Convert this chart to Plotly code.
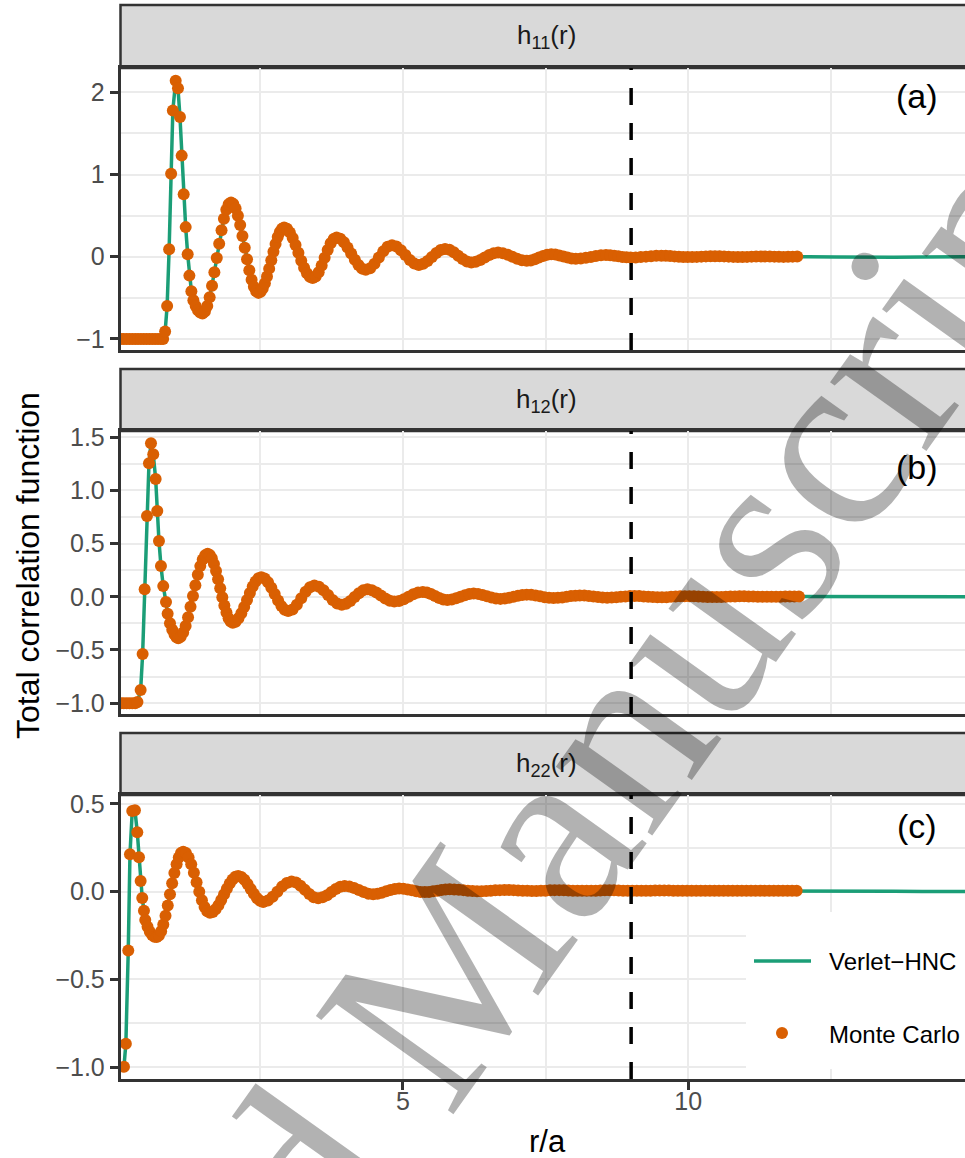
import plotly.graph_objects as go

# ---------------- data ----------------
# h11(r)  Monte Carlo
r11 = [0.06, 0.11, 0.16, 0.21, 0.26, 0.31, 0.36, 0.41, 0.46, 0.51, 0.56, 0.61, 0.66, 0.71, 0.76, 0.80,
       0.835, 0.87, 0.905, 0.94, 0.97, 1.02, 1.06, 1.095, 1.125, 1.16, 1.195, 1.23, 1.26, 1.295, 1.33,
       1.37, 1.41, 1.45, 1.49,
       1.532, 1.573, 1.615, 1.657, 1.698, 1.74, 1.782, 1.823, 1.865, 1.907, 1.948, 1.99,
       2.03, 2.07, 2.11, 2.15, 2.19, 2.23, 2.27, 2.31, 2.35, 2.39, 2.43, 2.47,
       2.508, 2.545, 2.583, 2.62, 2.658, 2.695, 2.733, 2.77, 2.808, 2.845, 2.883, 2.92,
       2.97, 3.02, 3.07, 3.12, 3.17, 3.22, 3.27, 3.32, 3.37, 3.42,
       3.473, 3.525, 3.578, 3.63, 3.683, 3.735, 3.788, 3.84,
       3.904, 3.968, 4.031, 4.095, 4.159, 4.223, 4.286, 4.35,
       4.427, 4.503, 4.58, 4.657, 4.733, 4.81,
       4.888, 4.967, 5.045, 5.123, 5.202, 5.28,
       5.357, 5.433, 5.51, 5.587, 5.663, 5.74,
       5.817, 5.893, 5.97, 6.047, 6.123, 6.20,
       6.278, 6.357, 6.435, 6.513, 6.592, 6.67,
       6.753, 6.837, 6.92, 7.003, 7.087, 7.17,
       7.242, 7.313, 7.385, 7.457, 7.528, 7.60,
       7.672, 7.743, 7.815, 7.887, 7.958, 8.03,
       8.118, 8.207, 8.295, 8.383, 8.472, 8.56,
       8.632, 8.703, 8.775, 8.847, 8.918, 8.99,
       9.08, 9.17, 9.26, 9.35, 9.44, 9.53,
       9.607, 9.683, 9.76, 9.837, 9.913, 9.99,
       10.07, 10.15, 10.23, 10.31, 10.39, 10.47, 10.55, 10.63, 10.71, 10.79, 10.87, 10.95,
       11.03, 11.11, 11.19, 11.27, 11.35, 11.43, 11.51, 11.59, 11.67, 11.75, 11.83, 11.91]
h11 = [-1.0, -1.0, -1.0, -1.0, -1.0, -1.0, -1.0, -1.0, -1.0, -1.0, -1.0, -1.0, -1.0, -1.0, -1.0, -1.0,
       -0.91, -0.60, 0.09, 1.01, 1.78, 2.14, 2.05, 1.70, 1.23, 0.76, 0.36, 0.03, -0.23, -0.42, -0.53,
       -0.60, -0.65, -0.68, -0.69,
       -0.667, -0.600, -0.493, -0.353, -0.189, -0.015, 0.159, 0.323, 0.463, 0.570, 0.637, 0.66,
       0.641, 0.586, 0.499, 0.385, 0.252, 0.110, -0.032, -0.165, -0.279, -0.366, -0.421, -0.44,
       -0.427, -0.387, -0.324, -0.241, -0.145, -0.043, 0.060, 0.156, 0.239, 0.302, 0.341, 0.355,
       0.340, 0.296, 0.228, 0.143, 0.048, -0.048, -0.133, -0.201, -0.245, -0.26,
       -0.241, -0.188, -0.107, -0.013, 0.082, 0.163, 0.216, 0.235,
       0.220, 0.177, 0.113, 0.038, -0.038, -0.102, -0.145, -0.16,
       -0.140, -0.085, -0.010, 0.065, 0.120, 0.14,
       0.124, 0.080, 0.020, -0.040, -0.084, -0.10,
       -0.087, -0.051, -0.003, 0.046, 0.082, 0.095,
       0.084, 0.054, 0.013, -0.029, -0.059, -0.07,
       -0.062, -0.040, -0.010, 0.020, 0.042, 0.05,
       0.043, 0.025, 0.0, -0.025, -0.043, -0.05,
       -0.045, -0.030, -0.010, 0.010, 0.025, 0.03,
       0.026, 0.016, 0.003, -0.011, -0.021, -0.025,
       -0.022, -0.014, -0.003, 0.009, 0.017, 0.02,
       0.018, 0.013, 0.005, -0.003, -0.008, -0.01,
       -0.009, -0.005, 0.001, 0.007, 0.011, 0.012,
       0.011, 0.008, 0.004, -0.001, -0.004, -0.005,
       -0.004, -0.002, 0.001, 0.004, 0.006, 0.007, 0.006, 0.004, 0.001, -0.002, -0.004, -0.004,
       -0.002, 0.001, 0.003, 0.004, 0.004, 0.003, 0.001, -0.001, -0.002, -0.001, 0.001, 0.002]

# h12(r)  Monte Carlo
r12 = [0.06, 0.11, 0.16, 0.21, 0.26, 0.31, 0.35,
       0.406, 0.441, 0.476, 0.517, 0.552, 0.587, 0.627, 0.669, 0.697, 0.727, 0.762, 0.802, 0.850, 0.879,
       0.92, 0.96, 1.00, 1.035, 1.065,
       1.108, 1.151, 1.194, 1.237, 1.28, 1.323, 1.365, 1.408, 1.451, 1.494, 1.537, 1.58,
       1.617, 1.653, 1.69, 1.727, 1.763, 1.80, 1.837, 1.873, 1.91, 1.947, 1.983, 2.02,
       2.07, 2.12, 2.17, 2.22, 2.27, 2.32, 2.37, 2.42, 2.47, 2.52,
       2.579, 2.638, 2.696, 2.755, 2.814, 2.873, 2.931, 2.99,
       3.067, 3.143, 3.22, 3.297, 3.373, 3.45,
       3.53, 3.61, 3.69, 3.77, 3.85, 3.93,
       4.005, 4.08, 4.155, 4.23, 4.305, 4.38,
       4.458, 4.537, 4.615, 4.693, 4.772, 4.85,
       4.933, 5.017, 5.10, 5.183, 5.267, 5.35,
       5.422, 5.493, 5.565, 5.637, 5.708, 5.78,
       5.857, 5.933, 6.01, 6.087, 6.163, 6.24,
       6.318, 6.397, 6.475, 6.553, 6.632, 6.71,
       6.787, 6.863, 6.94, 7.017, 7.093, 7.17,
       7.248, 7.327, 7.405, 7.483, 7.562, 7.64,
       7.717, 7.793, 7.87, 7.947, 8.023, 8.10,
       8.18, 8.26, 8.34, 8.42, 8.50, 8.58, 8.66, 8.74, 8.82, 8.90, 8.98, 9.06,
       9.14, 9.22, 9.30, 9.38, 9.46, 9.54, 9.62, 9.70, 9.78, 9.86, 9.94, 10.02,
       10.10, 10.18, 10.26, 10.34, 10.42, 10.50, 10.58, 10.66, 10.74, 10.82, 10.90, 10.98,
       11.06, 11.14, 11.22, 11.30, 11.38, 11.46, 11.54, 11.62, 11.70, 11.78, 11.86, 11.94]
h12 = [-1.0, -1.0, -1.0, -1.0, -1.0, -1.0, -0.99,
       -0.876, -0.538, 0.07, 0.76, 1.255, 1.443, 1.339, 1.107, 0.806, 0.524, 0.289, 0.10, -0.05, -0.16,
       -0.25, -0.31, -0.355, -0.38, -0.39,
       -0.377, -0.337, -0.274, -0.192, -0.095, 0.007, 0.109, 0.206, 0.288, 0.351, 0.391, 0.404,
       0.393, 0.361, 0.309, 0.242, 0.164, 0.080, -0.004, -0.082, -0.149, -0.201, -0.233, -0.244,
       -0.234, -0.203, -0.156, -0.096, -0.030, 0.036, 0.096, 0.143, 0.174, 0.184,
       0.172, 0.137, 0.085, 0.025, -0.036, -0.088, -0.123, -0.135,
       -0.119, -0.075, -0.015, 0.046, 0.090, 0.106,
       0.094, 0.061, 0.016, -0.030, -0.063, -0.075,
       -0.065, -0.039, -0.003, 0.034, 0.060, 0.07,
       0.062, 0.041, 0.0125, -0.016, -0.037, -0.045,
       -0.039, -0.0225, 0.0, 0.0225, 0.039, 0.045,
       0.040, 0.026, 0.0075, -0.011, -0.025, -0.03,
       -0.026, -0.015, 0.0, 0.015, 0.026, 0.03,
       0.027, 0.0175, 0.005, -0.0075, -0.017, -0.02,
       -0.017, -0.010, 0.0, 0.010, 0.017, 0.02,
       0.018, 0.012, 0.004, -0.004, -0.010, -0.012,
       -0.010, -0.006, 0.0, 0.006, 0.010, 0.012,
       0.011, 0.008, 0.003, -0.002, -0.007, -0.009, -0.008, -0.005, -0.001, 0.003, 0.006, 0.007,
       0.006, 0.003, 0.0, -0.003, -0.005, -0.005, -0.004, -0.001, 0.002, 0.004, 0.005, 0.005,
       0.004, 0.002, 0.0, -0.002, -0.003, -0.003, -0.002, 0.0, 0.002, 0.003, 0.004, 0.004,
       0.003, 0.002, 0.001, 0.0, -0.001, -0.001, 0.0, 0.001, 0.002, 0.003, 0.003, 0.003]

# h22(r)  Monte Carlo
r22 = [0.114, 0.147, 0.189, 0.219, 0.259, 0.306, 0.347, 0.377, 0.406, 0.434, 0.464, 0.487,
       0.527, 0.567, 0.607, 0.647, 0.687,
       0.726, 0.765, 0.803, 0.842, 0.881, 0.92, 0.958, 0.997, 1.036, 1.074, 1.113, 1.152,
       1.199, 1.246, 1.292, 1.339, 1.386, 1.433, 1.48, 1.526, 1.573, 1.62,
       1.67, 1.719, 1.769, 1.818, 1.868, 1.917, 1.967, 2.016, 2.066, 2.115,
       2.17, 2.224, 2.279, 2.334, 2.389, 2.443, 2.498, 2.553,
       2.636, 2.719, 2.802, 2.884, 2.967, 3.05,
       3.128, 3.206, 3.284, 3.361, 3.439, 3.517,
       3.594, 3.672, 3.749, 3.826, 3.903, 3.98,
       4.063, 4.147, 4.23, 4.313, 4.397, 4.48,
       4.556, 4.632, 4.708, 4.783, 4.859, 4.935,
       5.01, 5.085, 5.16, 5.235, 5.31, 5.385,
       5.458, 5.53, 5.603, 5.675, 5.748, 5.82,
       5.90, 5.98, 6.06, 6.14, 6.22, 6.30, 6.38, 6.46, 6.54, 6.62,
       6.70, 6.78, 6.86, 6.94, 7.02, 7.10, 7.18, 7.26, 7.34, 7.42,
       7.50, 7.58, 7.66, 7.74, 7.82, 7.90, 7.98, 8.06, 8.14, 8.22,
       8.30, 8.38, 8.46, 8.54, 8.62, 8.70, 8.78, 8.86, 8.94, 9.02,
       9.10, 9.18, 9.26, 9.34, 9.42, 9.50, 9.58, 9.66, 9.74, 9.82,
       9.90, 9.98, 10.06, 10.14, 10.22, 10.30, 10.38, 10.46, 10.54, 10.62,
       10.70, 10.78, 10.86, 10.94, 11.02, 11.10, 11.18, 11.26, 11.34, 11.42,
       11.50, 11.58, 11.66, 11.74, 11.82, 11.90]
h22 = [-0.997, -0.866, -0.335, 0.214, 0.46, 0.464, 0.339, 0.197, 0.061, -0.036, -0.109, -0.161,
       -0.20, -0.228, -0.247, -0.256, -0.258,
       -0.250, -0.225, -0.187, -0.137, -0.078, -0.015, 0.048, 0.107, 0.157, 0.195, 0.220, 0.228,
       0.220, 0.195, 0.156, 0.108, 0.054, 0.0, -0.048, -0.087, -0.112, -0.12,
       -0.115, -0.100, -0.077, -0.047, -0.015, 0.017, 0.047, 0.070, 0.085, 0.09,
       0.084, 0.068, 0.044, 0.016, -0.012, -0.036, -0.052, -0.058,
       -0.050, -0.029, 0.0, 0.029, 0.050, 0.058,
       0.052, 0.034, 0.0105, -0.013, -0.031, -0.037,
       -0.032, -0.0195, -0.002, 0.0155, 0.028, 0.033,
       0.030, 0.021, 0.0095, -0.002, -0.011, -0.014,
       -0.012, -0.006, 0.002, 0.010, 0.016, 0.018,
       0.017, 0.013, 0.008, 0.003, -0.001, -0.002,
       -0.001, 0.002, 0.006, 0.010, 0.013, 0.014,
       0.013, 0.011, 0.009, 0.006, 0.004, 0.003, 0.003, 0.004, 0.006, 0.008,
       0.009, 0.010, 0.010, 0.009, 0.007, 0.006, 0.005, 0.004, 0.004, 0.005,
       0.006, 0.008, 0.009, 0.009, 0.008, 0.007, 0.006, 0.005, 0.005, 0.005,
       0.005, 0.006, 0.007, 0.008, 0.008, 0.008, 0.007, 0.006, 0.006, 0.005,
       0.005, 0.005, 0.006, 0.006, 0.007, 0.007, 0.007, 0.007, 0.006, 0.006,
       0.005, 0.005, 0.005, 0.005, 0.006, 0.006, 0.006, 0.006, 0.006, 0.006,
       0.006, 0.005, 0.005, 0.005, 0.005, 0.005, 0.006, 0.006, 0.006, 0.006,
       0.005, 0.005, 0.005, 0.005, 0.005, 0.005]

# Verlet-HNC: follows the MC curve, then continues to the right edge
r_hnc_tail = [12.1, 12.6, 13.1, 13.6, 14.1, 14.6, 14.97]
h11_hnc_tail = [0.0, -0.004, -0.008, -0.006, -0.002, 0.0, 0.0]
h12_hnc_tail = [0.003, 0.002, 0.001, 0.0, 0.0, 0.0, 0.0]
h22_hnc_tail = [0.004, 0.003, 0.002, 0.002, 0.001, 0.001, 0.001]

panel_names = ["h<sub>11</sub>(r)", "h<sub>12</sub>(r)", "h<sub>22</sub>(r)"]
panel_tags = ["(a)", "(b)", "(c)"]
series_names = ["Verlet\u2212HNC", "Monte Carlo"]
x_ticks = [5, 10, 15]
x_tick_labels = ["5", "10", "15"]
y_ticks = [[-1, 0, 1, 2], [-1.0, -0.5, 0.0, 0.5, 1.0, 1.5], [-1.0, -0.5, 0.0, 0.5]]
y_tick_labels = [["\u22121", "0", "1", "2"],
                 ["\u22121.0", "\u22120.5", "0.0", "0.5", "1.0", "1.5"],
                 ["\u22121.0", "\u22120.5", "0.0", "0.5"]]
y_minor = [[-0.5, 0.5, 1.5], [-0.75, -0.25, 0.25, 0.75, 1.25], [-0.75, -0.25, 0.25]]
x_minor = [2.5, 7.5, 12.5]
vline_r = 9

# ---------------- layout helpers ----------------
W, H = 965, 1158
GREEN = "#1B9E77"
ORANGE = "#D95F02"
BORDER = "#333333"
GRID = "#EBEBEB"
FONT = "Liberation Sans, Arial, sans-serif"


def px(x):
    return x / W


def py(y):
    return 1 - y / H


panel_box = [(68, 350), (431, 714), (795, 1079)]
strip_box = [(5, 68), (369, 431), (733, 795)]
y_ranges = [[-1.135, 2.296], [-1.102, 1.558], [-1.067, 0.551]]
x_range = [0.053, 14.85]
X0 = 120.5

fig = go.Figure()
data = [(r11, h11, h11_hnc_tail), (r12, h12, h12_hnc_tail), (r22, h22, h22_hnc_tail)]
for i, (r, h, tail) in enumerate(data):
    xa = "x" if i == 0 else f"x{i+1}"
    ya = "y" if i == 0 else f"y{i+1}"
    fig.add_trace(go.Scatter(x=r + r_hnc_tail, y=h + tail, mode="lines",
                             line=dict(color=GREEN, width=3.5), name=series_names[0],
                             xaxis=xa, yaxis=ya, showlegend=False, hoverinfo="skip"))
    fig.add_trace(go.Scatter(x=r, y=h, mode="markers",
                             marker=dict(color=ORANGE, size=12, line=dict(width=0)),
                             name=series_names[1], xaxis=xa, yaxis=ya, showlegend=False,
                             hoverinfo="skip"))

layout = dict(width=W, height=H, margin=dict(l=0, r=0, t=0, b=0, autoexpand=False),
              paper_bgcolor="white", plot_bgcolor="white",
              font=dict(family=FONT, color="#4D4D4D"), showlegend=False)

for i in range(3):
    sx = "" if i == 0 else str(i + 1)
    top, bot = panel_box[i]
    bottom_panel = (i == 2)
    layout["xaxis" + sx] = dict(
        domain=[px(X0), 1], range=x_range, anchor="y" + sx, automargin=False,
        showline=True, linecolor=BORDER, linewidth=2.5, mirror=True,
        tickmode="array", tickvals=x_ticks, ticktext=x_tick_labels,
        showticklabels=bottom_panel, ticks="outside" if bottom_panel else "",
        ticklen=8, tickwidth=2.5, tickcolor=BORDER, ticklabelstandoff=-10,
        tickfont=dict(size=25, color="#4D4D4D", family=FONT),
        showgrid=True, gridcolor=GRID, gridwidth=2.4, zeroline=False,
        minor=dict(tickmode="array", tickvals=x_minor, showgrid=True,
                   gridcolor=GRID, gridwidth=1.6, ticks=""),
    )
    layout["yaxis" + sx] = dict(
        domain=[py(bot), py(top)], range=y_ranges[i], anchor="x" + sx, automargin=False,
        showline=True, linecolor=BORDER, linewidth=2.5, mirror=False,
        tickmode="array", tickvals=y_ticks[i], ticktext=y_tick_labels[i],
        ticks="outside", ticklen=8, tickwidth=2.5, tickcolor=BORDER,
        tickfont=dict(size=25, color="#4D4D4D", family=FONT),
        showgrid=True, gridcolor=GRID, gridwidth=2.4, zeroline=False,
        minor=dict(tickmode="array", tickvals=y_minor[i], showgrid=True,
                   gridcolor=GRID, gridwidth=1.6, ticks=""),
    )

shapes = []
annotations = []
for i in range(3):
    st, sb = strip_box[i]
    shapes.append(dict(type="rect", xref="paper", yref="paper",
                       x0=px(X0), x1=1.03, y0=py(sb), y1=py(st),
                       fillcolor="#D9D9D9", line=dict(color=BORDER, width=2.5), layer="below"))
    xa = "x" if i == 0 else f"x{i+1}"
    ya = "y" if i == 0 else f"y{i+1}"
    shapes.append(dict(type="line", xref=xa, yref=ya + " domain", x0=vline_r, x1=vline_r,
                       y0=0, y1=1, line=dict(color="black", width=3.5, dash="17px,18px"),
                       layer="above"))
    annotations.append(dict(text=panel_names[i], xref="paper", yref="paper",
                            x=px(546), y=py((st + sb) / 2), showarrow=False,
                            xanchor="center", yanchor="middle",
                            font=dict(size=26, color="#1A1A1A", family=FONT)))

tag_y = [96, 467, 826]
for i in range(3):
    annotations.append(dict(text=panel_tags[i], xref="paper", yref="paper",
                            x=px(917), y=py(tag_y[i]), showarrow=False,
                            xanchor="center", yanchor="middle",
                            font=dict(size=34, color="black", family=FONT)))

# legend (drawn inside the bottom panel, as in the reference)
shapes.append(dict(type="rect", xref="paper", yref="paper", x0=px(746), x1=1.03,
                   y0=py(1069), y1=py(912), fillcolor="white", line=dict(width=0),
                   layer="above"))
shapes.append(dict(type="line", xref="paper", yref="paper", x0=px(754), x1=px(811),
                   y0=py(961), y1=py(961), line=dict(color=GREEN, width=3.5), layer="above"))
shapes.append(dict(type="circle", xref="paper", yref="paper", x0=px(776), x1=px(788),
                   y0=py(1039), y1=py(1027), fillcolor=ORANGE, line=dict(width=0),
                   layer="above"))
annotations.append(dict(text=series_names[0], xref="paper", yref="paper", x=px(827),
                        y=py(961), xanchor="left", yanchor="middle", showarrow=False,
                        font=dict(size=24, color="black", family=FONT)))
annotations.append(dict(text=series_names[1], xref="paper", yref="paper", x=px(827),
                        y=py(1034), xanchor="left", yanchor="middle", showarrow=False,
                        font=dict(size=24, color="black", family=FONT)))

# axis titles
annotations.append(dict(text="Total correlation function", xref="paper", yref="paper",
                        x=px(28), y=py(566), textangle=-90, showarrow=False,
                        xanchor="center", yanchor="middle",
                        font=dict(size=32, color="black", family=FONT)))
annotations.append(dict(text="r/a", xref="paper", yref="paper",
                        x=px(547), y=py(1141), showarrow=False,
                        xanchor="center", yanchor="middle",
                        font=dict(size=31, color="black", family=FONT)))

# watermark
annotations.append(dict(text="Accepted Manuscript", xref="paper", yref="paper",
                        x=px(418), y=py(1014), textangle=-54.5, showarrow=False,
                        xanchor="center", yanchor="middle",
                        font=dict(size=258, color="rgba(0,0,0,0.3)",
                                  family="Liberation Serif, Times New Roman, serif")))

layout["shapes"] = shapes
layout["annotations"] = annotations
fig.update_layout(**layout)
fig.write_html("out.html", config={"displayModeBar": False},
               post_script="document.body.style.margin='0px';"
                           "document.body.style.overflow='hidden';")
